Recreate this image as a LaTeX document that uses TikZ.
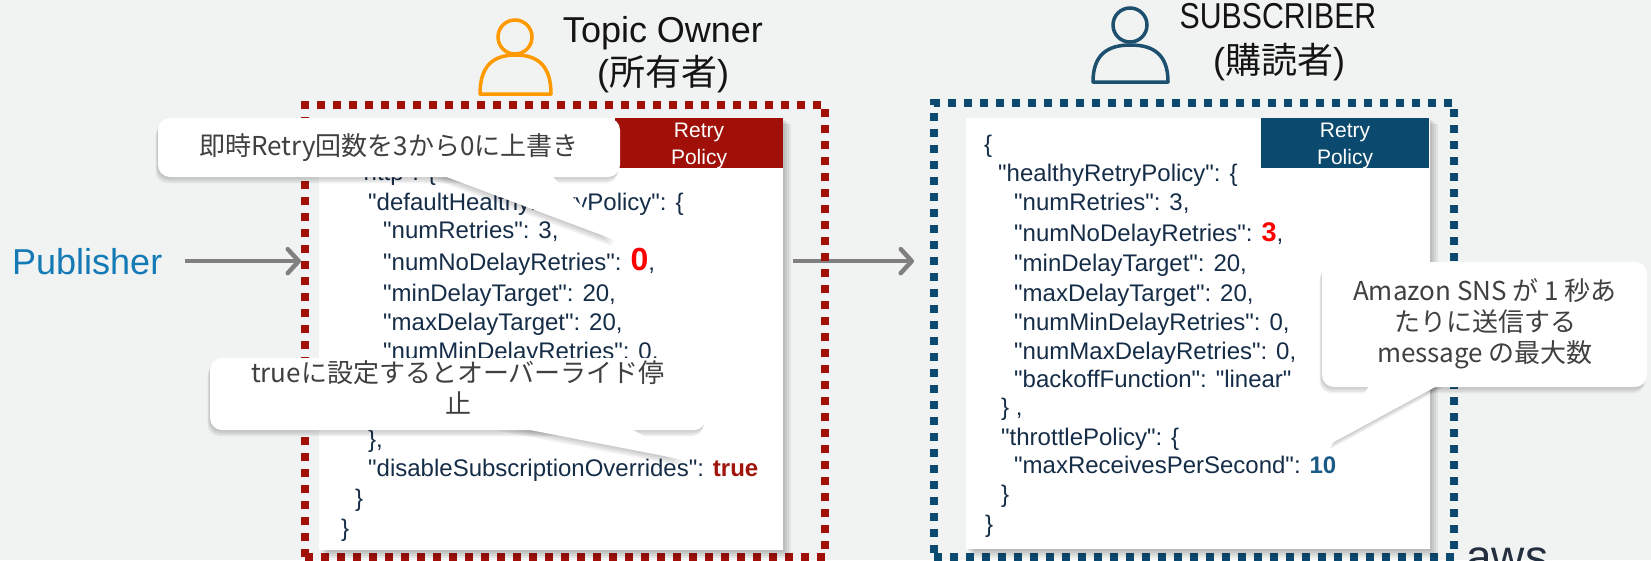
\documentclass[tikz,border=0pt]{standalone}
\usepackage{fontspec}
\setmainfont{Liberation Sans}[Ligatures=TeXOff]
\newfontfamily\cjk{Noto Sans CJK JP}
\usetikzlibrary{arrows.meta,calc}
\definecolor{bgc}{RGB}{241,243,242}
\definecolor{ownred}{RGB}{160,16,8}
\definecolor{subblue}{RGB}{11,74,110}
\definecolor{jsonc}{RGB}{22,45,72}
\definecolor{pubblue}{RGB}{20,122,182}
\definecolor{arrgray}{RGB}{128,128,128}
\definecolor{callc}{RGB}{64,64,64}
\definecolor{orangeic}{RGB}{255,153,0}
\definecolor{blueic}{RGB}{29,79,110}
\definecolor{truec}{RGB}{160,20,12}
\definecolor{tenc}{RGB}{26,90,135}
\definecolor{awsc}{RGB}{35,47,62}
\definecolor{titlec}{RGB}{20,20,20}
\pgfdeclarelayer{bglayer}
\pgfdeclarelayer{arrowlayer}
\pgfsetlayers{bglayer,arrowlayer,main}
\begin{document}
\begin{tikzpicture}[x=1pt,y=-1pt,
  jl/.style={anchor=base west,inner sep=0pt,text=jsonc,font=\fontsize{24}{29}\selectfont},
  dotbox/.style={draw,line width=8pt,dash pattern=on 8pt off 8pt,inner sep=0pt},
  panel/.style={fill=white,inner sep=0pt},
  hdrbox/.style={inner sep=0pt,minimum width=168pt,minimum height=50pt},
  hdrtext/.style={inner sep=0pt,text=white,align=center,font=\fontsize{21}{27}\selectfont},
  calltext/.style={inner sep=0pt,text=callc,align=center,font=\cjk\fontsize{26}{31}\selectfont},
  titletext/.style={anchor=base,inner sep=0pt,text=titlec,font=\fontsize{36}{43}\selectfont},
  arr/.style={draw=arrgray,line width=4.5pt,-{Straight Barb[length=11pt,width=24pt,round]}},
  person/.style={line width=3.5pt}
]
\useasboundingbox (0,0) rectangle (1651,560);
\begin{pgfonlayer}{bglayer}
\fill[bgc] (0,0) rectangle (1651,560);
\end{pgfonlayer}

% dotted boxes
\node[dotbox,draw=ownred,minimum width=520pt,minimum height=452pt] (ownbox) at (565,331) {};
\node[dotbox,draw=subblue,minimum width=520pt,minimum height=454pt] (subbox) at (1194,330) {};

% panel shadows
\foreach \s in {1,...,4}{
  \fill[black,opacity=0.06] (319+2*\s,118+1.5*\s) rectangle (783+2*\s,550+2*\s);
  \fill[black,opacity=0.06] (966+2*\s,118+1.5*\s) rectangle (1430+2*\s,549+2*\s);
}
\node[panel,minimum width=464pt,minimum height=432pt] (lpanel) at (551,334) {};
\node[panel,minimum width=464pt,minimum height=431pt] (rpanel) at (1198,333.5) {};

% headers
\node[hdrbox,fill=ownred] (lhdr) at (699,143) {};
\node[hdrtext] (lhdrt) at (699,146) {Retry\\Policy};
\node[hdrbox,fill=subblue] (rhdr) at (1345,143) {};
\node[hdrtext] (rhdrt) at (1345,146) {Retry\\Policy};

% left JSON
\node[jl] (l1) at (355,180) {"http": \{};
\node[jl] (l2) at (368,210) {"defaultHealthyRetryPolicy": \{};
\node[jl] (l3) at (383,238) {"numRetries": 3,};
\node[jl] (l4) at (383,270) {"numNoDelayRetries": {\fontsize{32}{32}\selectfont\bfseries\color{red}0},};
\node[jl] (l5) at (383,301) {"minDelayTarget": 20,};
\node[jl] (l6) at (383,330) {"maxDelayTarget": 20,};
\node[jl] (l7) at (383,359) {"numMinDelayRetries": 0,};
\node[jl] (l8) at (368,447) {\},};
\node[jl] (l9) at (368,476) {"disableSubscriptionOverrides": {\bfseries\color{truec}true}};
\node[jl] (l10) at (355,506) {\}};
\node[jl] (l11) at (341,536) {\}};

% right JSON
\node[jl] (r1) at (984,152) {\{};
\node[jl] (r2) at (998,181) {"healthyRetryPolicy": \{};
\node[jl] (r3) at (1014,210) {"numRetries": 3,};
\node[jl] (r4) at (1014,241) {"numNoDelayRetries": {\fontsize{27}{27}\selectfont\bfseries\color{red}3},};
\node[jl] (r5) at (1014,271) {"minDelayTarget": 20,};
\node[jl] (r6) at (1014,301) {"maxDelayTarget": 20,};
\node[jl] (r7) at (1014,330) {"numMinDelayRetries": 0,};
\node[jl] (r8) at (1014,359) {"numMaxDelayRetries": 0,};
\node[jl] (r9) at (1014,387) {"backoffFunction": "linear"};
\node[jl] (r10) at (1001,415) {\} ,};
\node[jl] (r11) at (1001,445) {"throttlePolicy": \{};
\node[jl] (r12) at (1014,473) {"maxReceivesPerSecond": {\bfseries\color{tenc}10}};
\node[jl] (r13) at (1001,502) {\}};
\node[jl] (r14) at (985,532) {\}};

% callouts: shadows
\foreach \s in {1,...,4}{
  \begin{scope}[shift={(-0.6*\s,1.6*\s)}]
    \fill[black,opacity=0.05,rounded corners=12pt] (158,118) rectangle (620,177);
    \fill[black,opacity=0.05] (428,170) -- (546,170) -- (615,240) -- cycle;
    \fill[black,opacity=0.05,rounded corners=12pt] (210,358) rectangle (706,430);
    \fill[black,opacity=0.05] (499,424) -- (623,424) -- (685,460) -- cycle;
    \fill[black,opacity=0.05,rounded corners=12pt] (1322,262) rectangle (1647,387);
    \fill[black,opacity=0.05] (1373,380) -- (1448,380) -- (1332,443) -- cycle;
  \end{scope}
}
% callouts: bodies
\fill[white,rounded corners=12pt] (158,118) rectangle (620,177);
\fill[white] (428,170) -- (546,170) -- (615,240) -- cycle;
\fill[white,rounded corners=12pt] (210,358) rectangle (706,430);
\fill[white] (499,424) -- (623,424) -- (685,460) -- cycle;
\fill[white,rounded corners=12pt] (1322,262) rectangle (1647,387);
\fill[white] (1373,380) -- (1448,380) -- (1332,443) -- cycle;

\node[calltext] (c1t) at (389,148) {即時Retry回数を3から0に上書き};
\node[calltext] (c2t) at (458,387) {trueに設定するとオーバーライド停\\止};
\node[calltext] (c3t) at (1485,324) {Amazon SNS が 1 秒あ\\たりに送信する\\message の最大数};

% titles
\node[titletext] (ownt1) at (663,42) {Topic Owner};
\node[titletext] (ownt2) at (663,85) {({\cjk 所有者})};
\node[titletext] (subt1) at (1278,28) {\scalebox{0.84}[1]{SUBSCRIBER}};
\node[titletext] (subt2) at (1279,73) {({\cjk 購読者})};

% person icons
\draw[person,draw=orangeic] (515,37) circle[radius=17pt];
\draw[person,draw=orangeic,line join=round] (480,94) .. controls (480,66) and (493,55) .. (515.5,55) .. controls (538,55) and (551,66) .. (551,94) -- cycle;
\draw[person,draw=blueic] (1130,25) circle[radius=17pt];
\draw[person,draw=blueic,line join=round] (1093,82) .. controls (1093,55) and (1107,45) .. (1130.5,45) .. controls (1154,45) and (1168,55) .. (1168,82) -- cycle;

% publisher
\node[anchor=base west,inner sep=0pt,text=pubblue,font=\fontsize{36}{43}\selectfont] (pub) at (12,274) {Publisher};

% aws
\node[anchor=base west,inner sep=0pt,text=awsc,font=\fontsize{46}{50}\selectfont] (aws) at (1466,572) {aws};

% arrows
\begin{pgfonlayer}{arrowlayer}
\draw[arr,shorten <=23pt] (pub.east) -- (pub.east -| ownbox.west);
\draw[arr,shorten <=10pt,shorten >=16pt] (lpanel.east |- pub.east) -- (subbox.west |- pub.east);
\end{pgfonlayer}
\end{tikzpicture}
\end{document}
